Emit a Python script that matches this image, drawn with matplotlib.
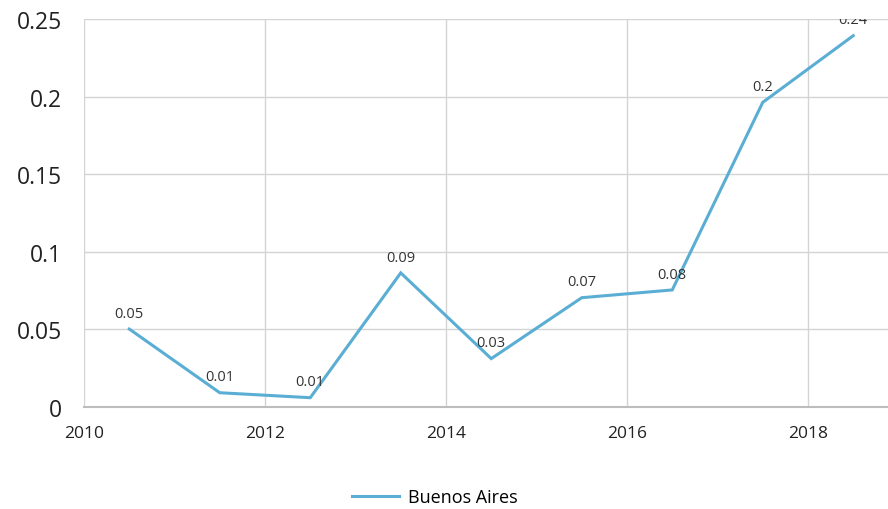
import matplotlib.pyplot as plt
from matplotlib.lines import Line2D

# Data
years = [2010.5, 2011.5, 2012.5, 2013.5, 2014.5, 2015.5, 2016.5, 2017.5, 2018.5]
values = [0.0503, 0.0092, 0.006, 0.0865, 0.0312, 0.0705, 0.0755, 0.1965, 0.2395]
series_name = "Buenos Aires"
x_ticks = [2010, 2012, 2014, 2016, 2018]
y_ticks = [0, 0.05, 0.1, 0.15, 0.2, 0.25]
y_tick_labels = ["0", "0.05", "0.1", "0.15", "0.2", "0.25"]

line_color = "#5aaed4"

fig = plt.figure(figsize=(8.88, 5.1), dpi=100)
ax = fig.add_axes([0.0946, 0.2, 0.905, 0.76])

ax.plot(years, values, color=line_color, linewidth=2.2, solid_joinstyle="miter")

# Value labels above points (clipped by the plot area like the original)
for x, y in zip(years, values):
    label = f"{round(y, 2):g}"
    t = ax.annotate(label, (x, y), xytext=(0, 6), textcoords="offset points",
                    ha="center", va="bottom", fontsize=10.5, color="#333333",
                    family="Open Sans")
    t.set_clip_on(True)
    t.set_clip_path(ax.patch)

ax.set_xlim(2010, 2018.88)
ax.set_ylim(0, 0.25)
ax.set_xticks(x_ticks)
ax.set_xticklabels([str(t) for t in x_ticks], fontsize=12.5, family="Open Sans",
                   color="#222222")
ax.set_yticks(y_ticks)
ax.set_yticklabels(y_tick_labels, fontsize=16.5, family="Open Sans", color="#222222")

ax.grid(True, color="#d4d4d4", linewidth=1.0)
ax.set_axisbelow(True)
for side in ["top", "right", "left"]:
    ax.spines[side].set_visible(False)
ax.spines["bottom"].set_color("#bdbdbd")
ax.spines["bottom"].set_linewidth(1.5)
ax.tick_params(axis="both", length=0)
ax.tick_params(axis="x", pad=13)
ax.tick_params(axis="y", pad=16)

handle = Line2D([0], [0], color=line_color, linewidth=2.2)
fig.legend([handle], [series_name], loc="center", bbox_to_anchor=(0.49, 0.023),
           frameon=False, prop={"family": "Open Sans", "size": 13},
           handlelength=2.6, handletextpad=0.5)

fig.savefig("out.png", dpi=100)
